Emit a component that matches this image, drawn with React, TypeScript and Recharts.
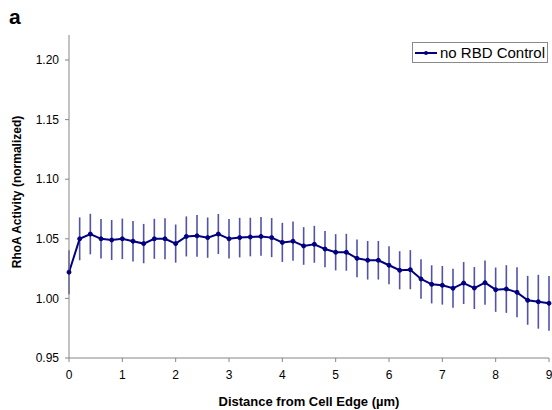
import React from 'react';
import { LineChart, Line, XAxis, YAxis, ErrorBar, Legend, Label } from 'recharts';

const distances = [0, 0.2, 0.4, 0.6, 0.8, 1, 1.2, 1.4, 1.6, 1.8, 2, 2.2, 2.4, 2.6, 2.8, 3, 3.2, 3.4, 3.6, 3.8, 4, 4.2, 4.4, 4.6, 4.8, 5, 5.2, 5.4, 5.6, 5.8, 6, 6.2, 6.4, 6.6, 6.8, 7, 7.2, 7.4, 7.6, 7.8, 8, 8.2, 8.4, 8.6, 8.8, 9];
const activity = [1.022, 1.05, 1.054, 1.05, 1.049, 1.05, 1.048, 1.046, 1.05, 1.05, 1.046, 1.052, 1.0525, 1.051, 1.054, 1.05, 1.051, 1.0515, 1.052, 1.051, 1.047, 1.048, 1.044, 1.0454, 1.0414, 1.0387, 1.0387, 1.0336, 1.032, 1.032, 1.0278, 1.0236, 1.0241, 1.0163, 1.0118, 1.011, 1.0085, 1.0129, 1.0087, 1.0132, 1.0073, 1.0079, 1.0051, 0.9984, 0.9972, 0.9959];
const sem = [0.0185, 0.018, 0.017, 0.0166, 0.0168, 0.017, 0.017, 0.0165, 0.0168, 0.0172, 0.016, 0.0168, 0.0175, 0.0169, 0.0168, 0.0166, 0.0166, 0.0162, 0.0162, 0.0164, 0.0164, 0.0165, 0.0158, 0.0155, 0.0152, 0.0152, 0.0155, 0.0158, 0.0162, 0.0162, 0.0159, 0.016, 0.0164, 0.0165, 0.016, 0.0162, 0.0164, 0.0176, 0.0176, 0.0185, 0.0186, 0.02, 0.021, 0.0205, 0.0226, 0.023];
const xTicks = [0, 1, 2, 3, 4, 5, 6, 7, 8, 9];
const yTicks = [0.95, 1.0, 1.05, 1.1, 1.15, 1.2];

const seriesName = 'no RBD Control';
const data = distances.map((d, i) => ({ d, v: activity[i], e: sem[i] }));

const FONT = '"Liberation Sans", Arial, sans-serif';
const NAVY = '#000080';
const AXIS = '#868686';

const LegendBox = () => (
  <div style={{ border: '1px solid #8a8a8a', height: 21, display: 'flex', alignItems: 'center', fontFamily: FONT, fontSize: 15, color: '#000', background: '#fff', boxSizing: 'border-box' }}>
    <svg width={26} height={10} style={{ marginLeft: 1 }}>
      <line x1={1} y1={5} x2={23} y2={5} stroke={NAVY} strokeWidth={2} />
      <circle cx={12} cy={5} r={2} fill={NAVY} />
    </svg>
    <span>{seriesName}</span>
  </div>
);

// y title drawn by hand so it sits where Excel put it
const YTitle = () => (
  <text x={17} y={192} transform="rotate(-90 17 192)" textAnchor="middle" dominantBaseline="central"
    style={{ fontWeight: 'bold', fontSize: 12, fontFamily: FONT, fill: '#000' }}>
    RhoA Activity (normalized)
  </text>
);

export default function App() {
  return (
    <div style={{ position: 'absolute', left: 0, top: 0, width: 552, height: 410, background: '#fff' }}>
      <div style={{ position: 'absolute', left: 9, top: 5, fontFamily: FONT, fontWeight: 'bold', fontSize: 21 }}>a</div>
      <LineChart width={552} height={410} data={data} margin={{ top: 35, right: 3, bottom: 0, left: 9 }}>
        <XAxis
          dataKey="d"
          type="number"
          domain={[0, 9]}
          ticks={xTicks}
          stroke={AXIS}
          tickSize={4}
          tickMargin={8}
          height={52}
          tick={{ fill: '#000', fontSize: 12, fontFamily: FONT }}
        >
          <Label value="Distance from Cell Edge (µm)" position="insideBottom" offset={4} style={{ fontWeight: 'bold', fontSize: 13, fontFamily: FONT, fill: '#000' }} />
        </XAxis>
        <YAxis
          type="number"
          domain={[0.95, 1.221]}
          ticks={yTicks}
          allowDataOverflow
          stroke={AXIS}
          tickSize={4}
          tickMargin={6}
          width={60}
          tickFormatter={(v: number) => v.toFixed(2)}
          tick={{ fill: '#000', fontSize: 12, fontFamily: FONT }}
        >
          <Label content={() => <YTitle />} />
        </YAxis>
        <Legend
          layout="vertical"
          align="center"
          verticalAlign="middle"
          wrapperStyle={{ top: 42, left: 412, width: 136 }}
          content={() => <LegendBox />}
        />
        <Line
          dataKey="v"
          name={seriesName}
          stroke={NAVY}
          strokeWidth={2}
          dot={{ r: 2, fill: NAVY, stroke: NAVY, strokeWidth: 1 }}
          isAnimationActive={false}
        >
          <ErrorBar dataKey="e" direction="y" width={0} stroke="#5252aa" strokeWidth={1.6} />
        </Line>
      </LineChart>
    </div>
  );
}
